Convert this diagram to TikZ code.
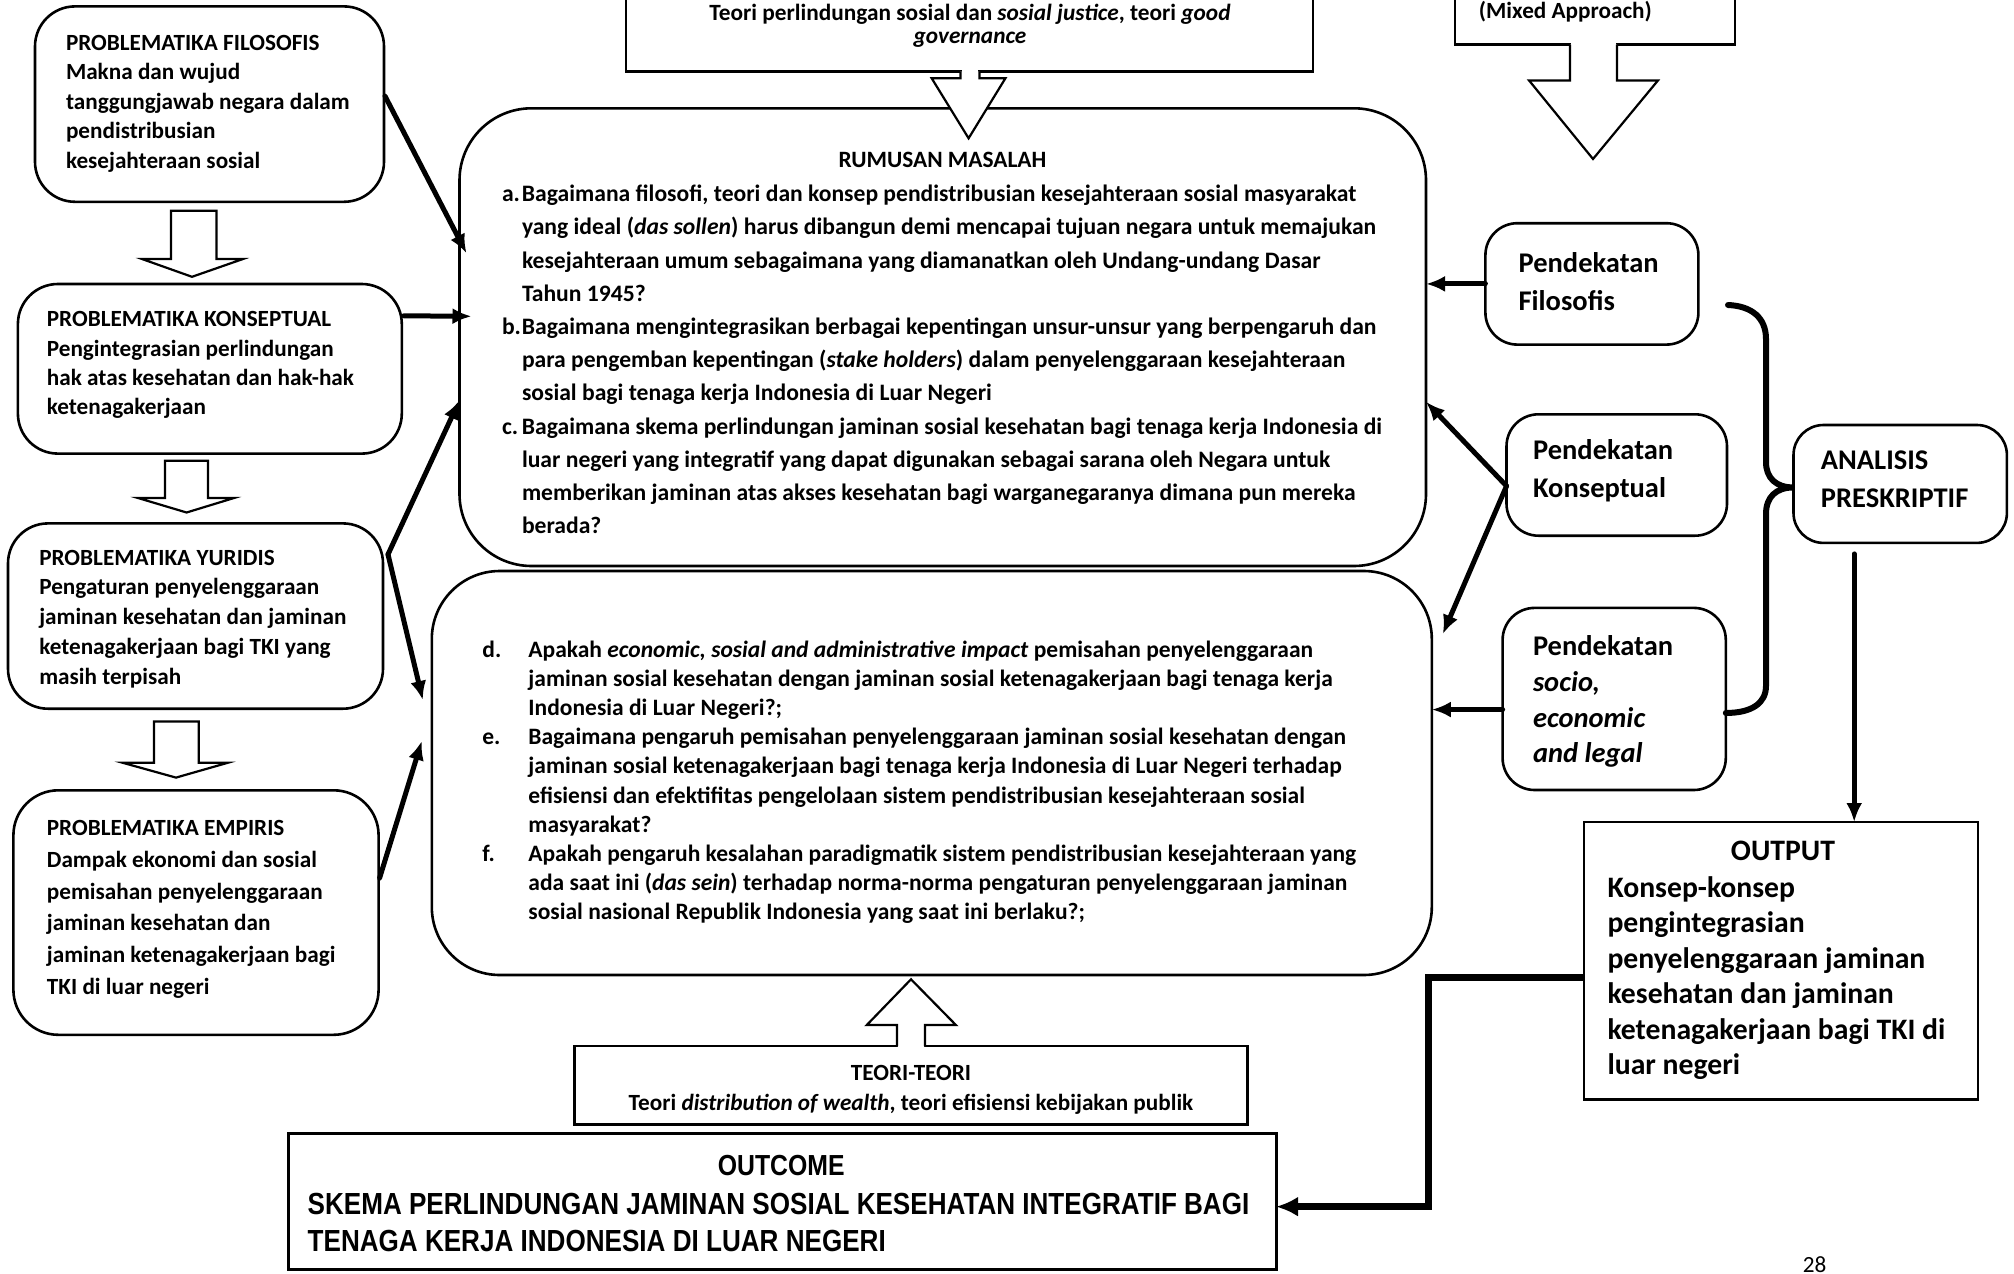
\documentclass[tikz,border=0pt]{standalone}
\usepackage{fontspec}
\setmainfont{Carlito}
\newfontfamily\narrowf{Liberation Sans}[FakeStretch=0.855]
\usetikzlibrary{arrows.meta,calc}
\newcommand\setfs[2]{\fontsize{#1}{#2}\selectfont\bfseries}
\newcommand\tstrut{\vrule height .7\baselineskip depth .3\baselineskip width 0pt}
\newcommand\lab[2]{\llap{\makebox[#1][l]{#2}}}
\begin{document}
\begin{tikzpicture}[x=1pt,y=-1pt,
  pbox/.style={draw, line width=2.6pt, rounded corners=40pt, inner sep=0pt, outer sep=0pt},
  sbox/.style={draw, line width=2.6pt, inner sep=0pt, outer sep=0pt},
  txt/.style={inner sep=0pt, outer sep=0pt, align=left, anchor=north west},
  ctxt/.style={inner sep=0pt, outer sep=0pt, align=center, anchor=north},
  arr/.style={line width=5pt, line cap=round, -{Latex[length=19pt,width=16pt]}},
  blk/.style={line width=2.2pt, fill=white, line join=miter},
]
\useasboundingbox (0,0) rectangle (2014,1274);
\clip (0,0) rectangle (2014,1274);

% ---------- left column boxes ----------
\node[pbox, minimum width=349, minimum height=195.4] (pA) at (209.5,104.1) {};
\node[pbox, minimum width=383.9, minimum height=169.6] (pB) at (209.85,368.8) {};
\node[pbox, minimum width=375, minimum height=185.3] (pC) at (195.5,616.05) {};
\node[pbox, minimum width=365.2, minimum height=244.5, rounded corners=45pt] (pD) at (196,912.55) {};

\node[txt, font=\setfs{23.2}{29.5}] (tA) at (66,29.65) {\tstrut PROBLEMATIKA FILOSOFIS\\Makna dan wujud\\tanggungjawab negara dalam\\pendistribusian\\kesejahteraan sosial};
\node[txt, font=\setfs{23.2}{29.1}] (tB) at (46.9,306.6) {\tstrut PROBLEMATIKA KONSEPTUAL\\Pengintegrasian perlindungan\\hak atas kesehatan dan hak-hak\\ketenagakerjaan};
\node[txt, font=\setfs{23.2}{29.7}] (tC) at (39.3,544.5) {\tstrut PROBLEMATIKA YURIDIS\\Pengaturan penyelenggaraan\\jaminan kesehatan dan jaminan\\ketenagakerjaan bagi TKI yang\\masih terpisah};
\node[txt, font=\setfs{23.2}{31.7}] (tD) at (46.9,813.4) {\tstrut PROBLEMATIKA EMPIRIS\\Dampak ekonomi dan sosial\\pemisahan penyelenggaraan\\jaminan kesehatan dan\\jaminan ketenagakerjaan bagi\\TKI di luar negeri};

% ---------- top boxes ----------
\node[sbox, minimum width=687, minimum height=151.7] (tTop) at (969.5,-4.15) {};
\node[ctxt, font=\setfs{23.3}{23.4}] (tTopT) at (970,3.9) {\tstrut Teori perlindungan sosial dan \textit{sosial justice}, teori \textit{good}\\\textit{governance}};
\node[sbox, minimum width=280, minimum height=124.6] (mixed) at (1595,-17.7) {};
\node[inner sep=0pt, anchor=base, font=\setfs{23.2}{28}] (mixedT) at (1565.4,18.5) {(Mixed Approach)};

% ---------- central boxes ----------
\node[pbox, rounded corners=72pt, minimum width=966.5, minimum height=457.7] (rum) at (942.75,337.15) {};
\node[pbox, rounded corners=68pt, minimum width=1000, minimum height=404] (low) at (931.8,773) {};

\node[inner sep=0pt, anchor=base, font=\setfs{23.4}{30}] (rumT) at (942.5,167.4) {RUMUSAN MASALAH};
\node[txt, font=\setfs{23.6}{33.2}] (rumI) at (522,178.4) {\tstrut\lab{20pt}{a.}Bagaimana filosofi, teori dan konsep pendistribusian kesejahteraan sosial masyarakat\\
yang ideal (\textit{das sollen}) harus dibangun demi mencapai tujuan negara untuk memajukan\\
kesejahteraan umum sebagaimana yang diamanatkan oleh Undang-undang Dasar\\
Tahun 1945?\\
\lab{20pt}{b.}Bagaimana mengintegrasikan berbagai kepentingan unsur-unsur yang berpengaruh dan\\
para pengemban kepentingan (\textit{stake holders}) dalam penyelenggaraan kesejahteraan\\
sosial bagi tenaga kerja Indonesia di Luar Negeri\\
\lab{20pt}{c.}Bagaimana skema perlindungan jaminan sosial kesehatan bagi tenaga kerja Indonesia di\\
luar negeri yang integratif yang dapat digunakan sebagai sarana oleh Negara untuk\\
memberikan jaminan atas akses kesehatan bagi warganegaranya dimana pun mereka\\
berada?};

\node[txt, font=\setfs{23.5}{29.2}] (lowI) at (528.4,636.6) {\tstrut\lab{46pt}{d.}Apakah \textit{economic, sosial and administrative impact} pemisahan penyelenggaraan\\
jaminan sosial kesehatan dengan jaminan sosial ketenagakerjaan bagi tenaga kerja\\
Indonesia di Luar Negeri?;\\
\lab{46pt}{e.}Bagaimana pengaruh pemisahan penyelenggaraan jaminan sosial kesehatan dengan\\
jaminan sosial ketenagakerjaan bagi tenaga kerja Indonesia di Luar Negeri terhadap\\
efisiensi dan efektifitas pengelolaan sistem pendistribusian kesejahteraan sosial\\
masyarakat?\\
\lab{46pt}{f.}Apakah pengaruh kesalahan paradigmatik sistem pendistribusian kesejahteraan yang\\
ada saat ini (\textit{das sein}) terhadap norma-norma pengaturan penyelenggaraan jaminan\\
sosial nasional Republik Indonesia yang saat ini berlaku?;};

% ---------- bottom boxes ----------
\node[sbox, minimum width=673.4, minimum height=78.3] (tBot) at (911,1085.15) {};
\node[ctxt, font=\setfs{23.2}{29.6}] (tBotT) at (911,1060) {\tstrut TEORI-TEORI\\Teori \textit{distribution of wealth}, teori efisiensi kebijakan publik};
\node[sbox, line width=3pt, minimum width=988, minimum height=135.7] (outc) at (782,1201.15) {};
\node[inner sep=0pt, anchor=base, font=\narrowf\bfseries\fontsize{29}{30}\selectfont] (outcT) at (781.2,1175.5) {OUTCOME};
\node[txt, font=\narrowf\bfseries\fontsize{30.5}{36.7}\selectfont] (outcL) at (307.7,1188.8) {\tstrut SKEMA PERLINDUNGAN JAMINAN SOSIAL KESEHATAN INTEGRATIF BAGI\\TENAGA KERJA INDONESIA DI LUAR NEGERI};

% ---------- right boxes ----------
\node[pbox, rounded corners=32pt, minimum width=213, minimum height=121.4] (pF) at (1591.9,283.9) {};
\node[pbox, rounded corners=32pt, minimum width=220.5, minimum height=121.4] (pK) at (1616.75,475) {};
\node[pbox, rounded corners=32pt, minimum width=223.2, minimum height=182.1] (pS) at (1614.2,698.95) {};
\node[pbox, rounded corners=30pt, minimum width=213.4, minimum height=117.9] (anal) at (1900.2,483.95) {};
\node[sbox, line width=2.4pt, minimum width=394, minimum height=277.3] (outp) at (1781,960.65) {};

\node[txt, font=\setfs{28.5}{37.5}] (tF) at (1518.6,246.7) {\tstrut Pendekatan\\Filosofis};
\node[txt, font=\setfs{28.5}{38.6}] (tK) at (1533.1,432.3) {\tstrut Pendekatan\\Konseptual};
\node[txt, font=\setfs{28.5}{35.8}] (tS) at (1533,630.5) {\tstrut Pendekatan\\\textit{socio,}\\\textit{economic}\\\textit{and legal}};
\node[txt, font=\setfs{28.5}{37.5}] (tAn) at (1820.9,443.6) {\tstrut ANALISIS\\PRESKRIPTIF};
\node[inner sep=0pt, anchor=base, font=\setfs{29.7}{35.5}] (outpT) at (1783,860.2) {OUTPUT};
\node[txt, font=\setfs{29.7}{35.5}] (outpL) at (1607.5,872.3) {\tstrut Konsep-konsep\\pengintegrasian\\penyelenggaraan jaminan\\kesehatan dan jaminan\\ketenagakerjaan bagi TKI di\\luar negeri};

\node[inner sep=0pt, anchor=base, font=\fontsize{23.2}{28}\selectfont] (page) at (1814.7,1272) {28};

% ---------- block arrows ----------
\draw[blk] (171,210.7) -- (171,259) -- (142,259) -- (192,276.8) -- (243,259) -- (216.5,259) -- (216.5,210.7) -- cycle;
\draw[blk] (165,460.7) -- (165,498) -- (138,498) -- (186.6,512.5) -- (234,498) -- (208,498) -- (208,460.7) -- cycle;
\draw[blk] (154,721.5) -- (154,762.8) -- (122.8,762.8) -- (176,777.6) -- (227.7,762.8) -- (198.7,762.8) -- (198.7,721.5) -- cycle;

\fill[white] (961.5,68) rectangle (978.3,80);
\draw[blk] (960.4,71.7) -- (960.4,78.3) -- (931.7,78.3) -- (968.6,138.3) -- (1005.4,78.3) -- (979.4,78.3) -- (979.4,71.7);

\fill[white] (1571.1,41) rectangle (1615.9,82);
\draw[blk] (1570,44.6) -- (1570,80.4) -- (1529,80.4) -- (1593,159) -- (1658,80.4) -- (1617,80.4) -- (1617,44.6);

\fill[white] (898.1,1024) rectangle (923.9,1049);
\draw[blk] (897,1046) -- (897,1025) -- (866.8,1025) -- (911,979.3) -- (955.9,1025) -- (925,1025) -- (925,1046);

% ---------- connectors ----------
\draw[arr] ($(pA.east)+(1,-8)$) -- ($(rum.north west)+(7,145)$);
\draw[arr] ($(pB.east)+(2,-53)$) -- ($(rum.north west)+(12,208)$);
\draw[arr] ($(pC.north east)+(5,31)$) -- ($(rum.north west)+(0,292)$);
\draw[arr] ($(pC.north east)+(5,31)$) -- ($(low.north west)+(-9,129)$);
\draw[arr] ($(pD.east)+(1,-34.5)$) -- ($(low.north west)+(-10,170)$);

\draw[arr] (pF.west) -- (pF.west -| rum.east);
\draw[arr] ($(pK.west)+(0,11)$) -- ($(rum.north east)+(0,293.5)$);
\draw[arr] ($(pK.west)+(0,11)$) -- ($(low.north east)+(11,63)$);
\draw[arr] ($(pS.west)+(0,10.6)$) -- ($(low.east |- pS.west)+(0,10.6)$);
\draw[arr] ($(anal.south)+(-46,11)$) -- ($(outp.north)+(73.2,0)$);
\draw[line width=6.5pt, line join=miter, -{Latex[length=22pt,width=20pt]}] ($(outp.west)+(0,17)$) -- ++(-155.5,0) |- ($(outc.east)+(0,5.5)$);

% brace
\coordinate (brTop) at (1728,305);
\draw[line width=6pt, line cap=round] (brTop) .. controls (1752,306) and (1766,318) .. (1766,339) -- (1766,462) .. controls (1766,478) and (1776,487.5) .. ($(anal.west)+(0,3.5)$) .. controls (1776,487.5) and (1766,497) .. (1766,514) -- (1766,686) .. controls (1766,703) and (1752,713) .. ($(pS.east)+(0,14)$);
\end{tikzpicture}
\end{document}
